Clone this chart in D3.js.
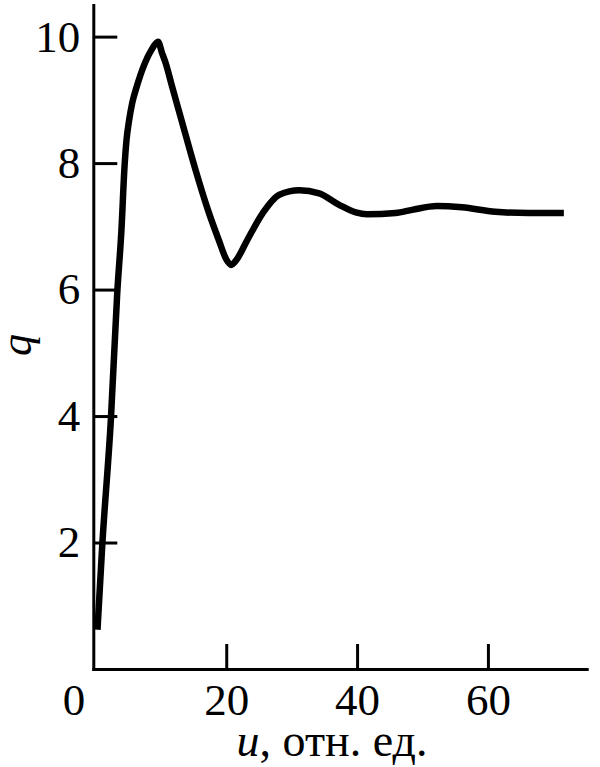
<!DOCTYPE html>
<html>
<head>
<meta charset="utf-8">
<script src="https://cdn.jsdelivr.net/npm/d3@7"></script>
</head>
<body style="margin:0">
<svg id="canvas" width="600" height="767"></svg>
<script>
// values
const uValues = [0.32, 1.05, 2.38, 3.34, 3.98, 4.45, 4.76, 5.16, 5.65, 6.29, 7.56, 8.57, 9.58, 10.19,
    10.75, 11.75, 13.16, 15.17, 17.20, 18.87, 20.05, 20.76, 21.57, 23.05, 25.58, 28.12, 31.17,
    34.21, 37.26, 39.80, 41.52, 45.89, 48.42, 52.19, 56.04, 61.13, 66.20, 71.61];
const qValues = [0.62, 1.96, 3.97, 5.95, 6.94, 7.94, 8.37, 8.68, 8.96, 9.20, 9.58, 9.79, 9.92, 9.74,
    9.58, 9.20, 8.68, 7.94, 7.26, 6.78, 6.47, 6.39, 6.47, 6.75, 7.21, 7.50, 7.57,
    7.52, 7.34, 7.22, 7.19, 7.21, 7.26, 7.32, 7.30, 7.23, 7.21, 7.21];
const xTicks = [0, 20, 40, 60];
const yTicks = [2, 4, 6, 8, 10];

const FONT = "Liberation Serif";

const svg = d3.select("#canvas");

const x = d3.scaleLinear().domain([-0.32, 75.1]).range([93.3, 586.7]);
const y = d3.scaleLinear().domain([0, 10.5]).range([669, 5]);

/**
 * Axes with inward ticks, like the original figure.
 */
function drawAxes() {
    svg.append("g")
        .attr("class", "axis")
        .attr("transform", "translate(0,669)")
        .call(d3.axisBottom(x).tickValues(xTicks).tickSizeInner(-25).tickSizeOuter(0).tickPadding(14))
        .call(g => g.selectAll(".tick text").attr("dy", "0.72em"))
        .call(g => g.selectAll(".tick").filter(d => d === 0).select("line").remove())
        .call(g => g.selectAll(".tick").filter(d => d === 0).select("text").attr("dx", -22));

    svg.append("g")
        .attr("class", "axis")
        .attr("transform", "translate(93.3,0)")
        .call(d3.axisLeft(y).tickValues(yTicks).tickSizeInner(-24).tickSizeOuter(0).tickPadding(13));

    svg.selectAll(".axis")
        .attr("font-family", FONT)
        .attr("font-size", 45);
    svg.selectAll(".axis text")
        .attr("font-family", FONT)
        .style("font-family", `"${FONT}"`)
        .attr("fill", "#000");
    svg.selectAll(".axis path, .axis line")
        .attr("stroke", "#000")
        .attr("stroke-width", 3);
    svg.selectAll(".axis path").attr("stroke-linecap", "square");
}

/**
 * Axis titles.
 */
function drawLabels() {
    let xl = svg.append("text")
        .attr("font-family", FONT)
        .style("font-family", `"${FONT}"`)
        .attr("font-size", 46)
        .attr("x", 332)
        .attr("y", 756)
        .attr("text-anchor", "middle");
    xl.append("tspan").attr("font-style", "italic").text("u");
    xl.append("tspan").text(", отн. ед.");

    svg.append("text")
        .attr("font-family", FONT)
        .style("font-family", `"${FONT}"`)
        .attr("font-style", "italic")
        .attr("font-size", 44)
        .attr("transform", "translate(31,345) rotate(-90)")
        .attr("text-anchor", "middle")
        .text("q");
}

/**
 * The q(u) curve.
 */
function drawCurve() {
    const line = d3.line()
        .x(i => x(uValues[i]))
        .y(i => y(qValues[i]))
        .curve(d3.curveMonotoneX);

    svg.append("path")
        .attr("fill", "none")
        .attr("stroke", "#000")
        .attr("stroke-width", 6.5)
        .attr("stroke-linejoin", "round")
        .attr("d", line(d3.range(uValues.length)));
}

drawAxes();
drawCurve();
drawLabels();
</script>
</body>
</html>
